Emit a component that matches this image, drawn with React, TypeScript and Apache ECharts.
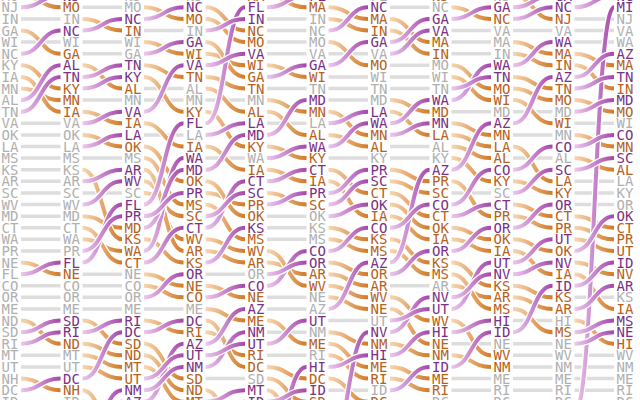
import React, { useEffect, useRef } from "react";
import * as echarts from "echarts";

// Rank columns (row -1 .. 34 visible window; later rows are off-screen)
const FIRST_ROW = -1;
const col0 = ["MO","NJ","IN","GA","WI","NC","KY","IA","MN","AL","TN","VA","OK","LA","MS","KS","AR","SC","WV","MD","CT","WA","PR","NE","FL","CO","OR","ME","ND","SD","RI","MT","UT","NH","DC","ID"];
const col1 = ["NJ","MO","IN","NC","WI","GA","AL","TN","KY","MN","IA","VA","OK","LA","MS","KS","AR","SC","WV","MD","CT","WA","PR","FL","NE","CO","OR","ME","SD","RI","ND","MT","UT","DC","NH","ID"];
const col2 = ["NJ","MO","NC","IN","WI","GA","TN","KY","AL","MN","VA","IA","LA","OK","MS","AR","WV","SC","FL","PR","MD","KS","WA","CT","NE","CO","OR","ME","RI","DC","SD","ND","MT","UT","NM","AZ"];
const col3 = ["NJ","NC","MO","IN","GA","WI","VA","TN","AL","MN","KY","FL","LA","IA","WA","MD","OK","PR","MS","SC","CT","WV","AR","KS","OR","NE","CO","ME","DC","RI","AZ","UT","NM","SD","ND","MT"];
const col4 = ["MA","FL","IN","NC","MO","VA","WI","GA","TN","MN","AL","LA","MD","KY","WA","IA","CT","SC","PR","OK","KS","MS","WV","AR","OR","CO","NE","AZ","ME","NM","UT","RI","DC","SD","MT","ID"];
const col5 = ["FL","MA","IN","NC","MO","VA","GA","WI","TN","MD","MN","LA","AL","WA","KY","CT","IA","PR","SC","OK","KS","MS","CO","OR","AR","WV","NE","AZ","UT","NM","ME","RI","HI","DC","ID","SD"];
const col6 = ["FL","NC","MA","IN","GA","VA","MO","WI","TN","MD","LA","WA","MN","AL","KY","PR","SC","CT","OK","IA","CO","KS","MS","AZ","OR","AR","WV","NE","UT","NV","NM","HI","ME","RI","ID","DC"];
const col7 = ["NJ","NC","GA","VA","MA","IN","MO","WI","TN","WA","MD","MN","LA","AL","KY","AZ","PR","SC","CO","CT","OK","IA","OR","KS","MS","AR","NV","UT","WV","HI","NE","NM","ID","ME","RI","DC"];
const col8 = ["NJ","GA","NC","VA","MA","IN","WA","TN","MO","WI","MD","AZ","MN","LA","AL","CO","KY","SC","CT","PR","OR","OK","IA","UT","NV","KS","AR","MS","HI","ID","NE","WV","NM","ME","RI","DC"];
const col9 = ["GA","NC","NJ","VA","WA","MA","IN","AZ","TN","MO","MD","WI","MN","CO","AL","SC","LA","KY","OR","CT","PR","UT","OK","NV","IA","ID","KS","AR","HI","MS","NE","WV","NM","ME","RI","DC","MI"];
const col10 = ["NC","MI","NJ","VA","WA","AZ","MA","TN","IN","MD","MO","WI","CO","MN","SC","AL","LA","KY","OR","OK","CT","PR","UT","ID","NV","AR","KS","IA","MS","NE","HI","WV","NM","ME","RI","DC"];

const columns = [col0, col1, col2, col3, col4, col5, col6, col7, col8, col9, col10];

const OFF_TOP = -4;
const OFF_BOTTOM = 38;
const MID_ROW = 17;

const TEXT_GRAY = "#b0b0b0";
const TEXT_UP = "#7a3183";
const TEXT_DOWN = "#b4621c";
const LINE_GRAY = "#dddddd";
const UP_STOPS = [
  { offset: 0, color: "#ecc8ee" },
  { offset: 1, color: "#a447aa" },
];
const DOWN_STOPS = [
  { offset: 0, color: "#f8d6b2" },
  { offset: 1, color: "#d27a28" },
];
const GAP = 11;

export default function App() {
  const ref = useRef<HTMLDivElement>(null);
  useEffect(() => {
    if (!ref.current) return;
    const chart = echarts.init(ref.current, null, { renderer: "svg" });

    const pos = columns.map((col) => {
      const m = new Map<string, number>();
      col.forEach((s, i) => m.set(s, i + FIRST_ROW));
      return m;
    });

    const labelData: number[][] = [];
    const labelText: string[] = [];
    const flatData: number[][] = [];
    const upLinks: number[][] = [];
    const downLinks: number[][] = [];

    columns.forEach((col, k) => {
      col.forEach((s, i) => {
        const r = i + FIRST_ROW;
        let status = 0;
        if (k > 0) {
          const p = pos[k - 1].get(s);
          const pr = p === undefined ? (r < MID_ROW ? OFF_TOP : OFF_BOTTOM) : p;
          status = pr > r ? 1 : pr < r ? -1 : 0;
          if (status === 0) flatData.push([k - 1, r]);
          else if (status === 1) upLinks.push([k - 1, pr, r]);
          else downLinks.push([k - 1, pr, r]);
        }
        if (k < columns.length - 1 && !pos[k + 1].has(s)) {
          const nr = r < MID_ROW ? OFF_TOP : OFF_BOTTOM;
          if (nr < r) upLinks.push([k, r, nr]);
          else downLinks.push([k, r, nr]);
        }
        labelData.push([k, r, status]);
        labelText.push(s);
      });
    });

    const ribbon = (stops: any[]) => (params: any, api: any) => {
      const k = api.value(0);
      const p0 = api.coord([k, api.value(1)]);
      const p1 = api.coord([k + 1, api.value(2)]);
      const xa = p0[0] + GAP;
      const xb = p1[0] - GAP;
      const xm = (xa + xb) / 2;
      const shape = {
        x1: xa, y1: p0[1], x2: xb, y2: p1[1],
        cpx1: xm, cpy1: p0[1], cpx2: xm, cpy2: p1[1],
      };
      return {
        type: "group",
        children: [
          { type: "bezierCurve", shape, style: { stroke: "#ffffff", lineWidth: 6.5, fill: null } },
          {
            type: "bezierCurve",
            shape,
            style: {
              stroke: new echarts.graphic.LinearGradient(xa, 0, xb, 0, stops, true),
              lineWidth: 4,
              fill: null,
            },
          },
        ],
      };
    };

    chart.setOption({
      animation: false,
      grid: { left: 10, right: 15, top: 0, bottom: 0 },
      xAxis: { type: "value", min: 0, max: 10, show: false },
      yAxis: { type: "value", min: -0.63, max: 33.85, inverse: true, show: false },
      series: [
        {
          type: "custom",
          data: flatData,
          renderItem: (params: any, api: any) => {
            const k = api.value(0);
            const r = api.value(1);
            const p0 = api.coord([k, r]);
            const p1 = api.coord([k + 1, r]);
            return {
              type: "line",
              shape: { x1: p0[0] + GAP, y1: p0[1], x2: p1[0] - GAP, y2: p1[1] },
              style: { stroke: LINE_GRAY, lineWidth: 3.5 },
            };
          },
        },
        { type: "custom", data: downLinks, renderItem: ribbon(DOWN_STOPS) },
        { type: "custom", data: upLinks, renderItem: ribbon(UP_STOPS) },
        {
          type: "custom",
          data: labelData,
          renderItem: (params: any, api: any) => {
            const p = api.coord([api.value(0), api.value(1)]);
            const st = api.value(2);
            return {
              type: "text",
              x: p[0],
              y: p[1],
              style: {
                text: labelText[params.dataIndex],
                fill: st > 0 ? TEXT_UP : st < 0 ? TEXT_DOWN : TEXT_GRAY,
                fontFamily: "DejaVu Sans Mono",
                fontSize: 14,
                align: "center",
                verticalAlign: "middle",
              },
            };
          },
        },
      ],
    });

    return () => chart.dispose();
  }, []);

  return (
    <div
      ref={ref}
      style={{ position: "fixed", left: 0, top: 0, width: 640, height: 400, background: "#ffffff" }}
    />
  );
}
